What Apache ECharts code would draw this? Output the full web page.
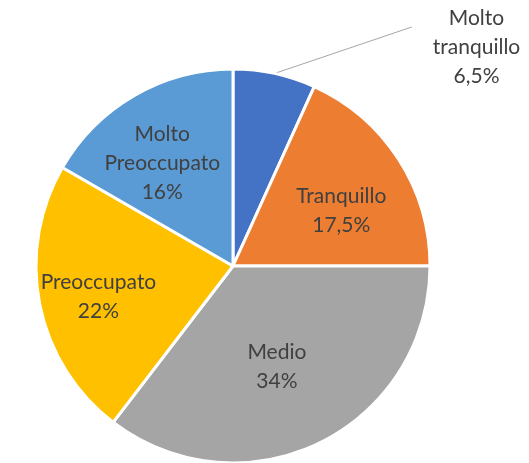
<!DOCTYPE html>
<html>
<head>
<meta charset="utf-8">
<script src="https://cdn.jsdelivr.net/npm/echarts@6/dist/echarts.min.js"></script>
<style>
  html, body { margin: 0; padding: 0; background: #fff; }
  #chart { width: 529px; height: 463px; }
</style>
</head>
<body>
<div id="chart"></div>
<script>
// dati
const categorie = ["Molto tranquillo", "Tranquillo", "Medio", "Preoccupato", "Molto Preoccupato"];
const valori = [6.5, 17.5, 34, 22, 16];
const colori = ["#4472C4", "#ED7D31", "#A5A5A5", "#FFC000", "#5B9BD5"];

// spostamento delle etichette interne (come nel grafico di Excel)
const spostamenti = [null, [23, 0], [-1, 10], [-35, 11], [-20, -15]];

const chart = echarts.init(document.getElementById("chart"));

const testo = (p) =>
  p.name.replace(" ", "\n") + "\n" + String(p.value).replace(".", ",") + "%";

const dati = categorie.map((nome, i) => {
  const item = {
    name: nome,
    value: valori[i],
    itemStyle: { color: colori[i] },
  };
  if (i === 0) {
    // etichetta esterna: riga vuota in alto così la linea arriva più in alto
    item.label = {
      position: "outside",
      align: "center",
      padding: [0, 0, 0, 21],
      formatter: (p) => "{g|}\n" + testo(p),
      rich: { g: { lineHeight: 40, height: 40 } },
    };
    item.labelLine = {
      show: true,
      length: 30,
      length2: 0,
      lineStyle: { color: "#A6A6A6", width: 1 },
    };
  } else {
    item.label = { position: "inside", offset: spostamenti[i] };
    item.labelLine = { show: false };
  }
  return item;
});

chart.setOption({
  animation: false,
  series: [
    {
      type: "pie",
      center: [233, 266],
      radius: 197,
      startAngle: 90,
      clockwise: true,
      data: dati,
      itemStyle: { borderColor: "#fff", borderWidth: 3 },
      label: {
        show: true,
        color: "#404040",
        fontFamily: "Lato",
        fontSize: 21,
        lineHeight: 29,
        align: "center",
        formatter: testo,
      },
      labelLayout: (params) => {
        if (params.dataIndex === 0) {
          return { x: 466, y: 27, align: "center", verticalAlign: "middle" };
        }
      },
    },
  ],
});
</script>
</body>
</html>
